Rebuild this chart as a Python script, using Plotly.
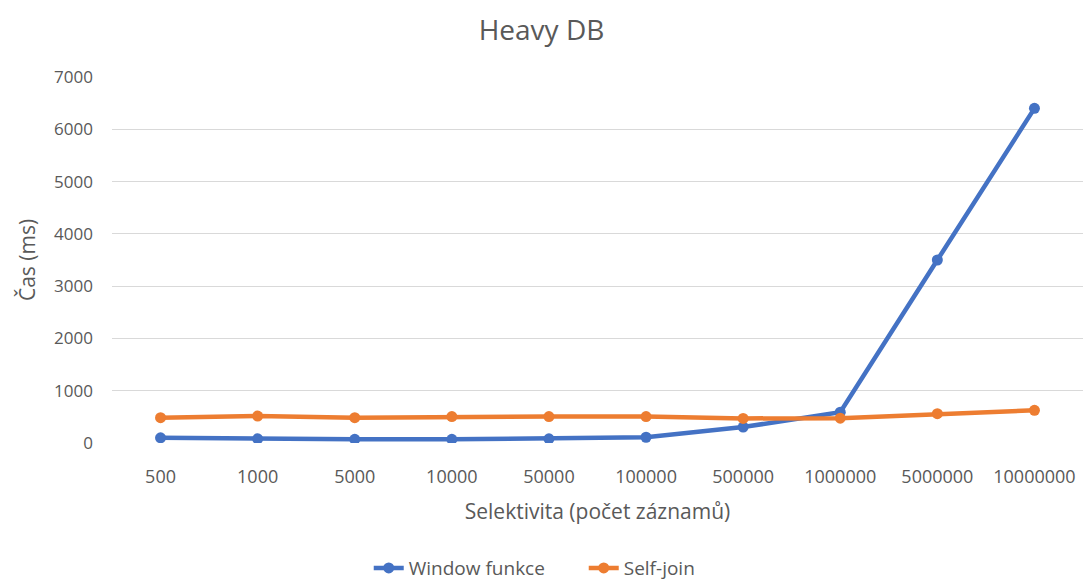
import plotly.graph_objects as go

categories = ["500", "1000", "5000", "10000", "50000", "100000", "500000", "1000000", "5000000", "10000000"]
window_funkce = [100, 80, 70, 70, 80, 110, 305, 590, 3500, 6400]
self_join = [485, 515, 485, 505, 505, 505, 470, 475, 560, 625]

FONT = "Open Sans"
GREY = "#595959"

fig = go.Figure()
fig.add_trace(go.Scatter(x=categories, y=window_funkce, name="Window funkce", mode="lines+markers",
                         line=dict(color="#4472C4", width=4.5), marker=dict(size=11, color="#4472C4")))
fig.add_trace(go.Scatter(x=categories, y=self_join, name="Self-join", mode="lines+markers",
                         line=dict(color="#ED7D31", width=4.5), marker=dict(size=11, color="#ED7D31")))

fig.update_layout(
    width=1083, height=582,
    margin=dict(l=112, r=0, t=77, b=139),
    paper_bgcolor="white", plot_bgcolor="white",
    font=dict(family=FONT, color=GREY, size=17),
    title=dict(text="Heavy DB", x=0.5, xanchor="center", y=0.948, yanchor="middle",
               font=dict(size=28, color=GREY, family=FONT)),
    xaxis=dict(type="category", range=[-0.5, 9.5], showgrid=False, showline=False, ticks="", automargin=False,
               tickfont=dict(size=18, color=GREY), ticklabelstandoff=21,
               title=dict(text="Selektivita (počet záznamů)", font=dict(size=21, color=GREY), standoff=17)),
    yaxis=dict(range=[0, 7000], dtick=1000, showgrid=True, gridcolor="#d9d9d9", gridwidth=1.3,
               zeroline=False, showline=False, ticks="", automargin=False,
               tickfont=dict(size=17, color=GREY), ticklabelstandoff=18,
               title=dict(text="Čas (ms)", font=dict(size=21, color=GREY), standoff=12)),
    legend=dict(orientation="h", x=0.539, xanchor="center", xref="container",
                y=0.024, yanchor="middle", yref="container",
                font=dict(size=19, color=GREY), entrywidth=170, entrywidthmode="pixels"),
    hovermode=False,
)

fig.write_html("out.html", config={"displayModeBar": False},
               post_script="document.body.style.margin='0';")
